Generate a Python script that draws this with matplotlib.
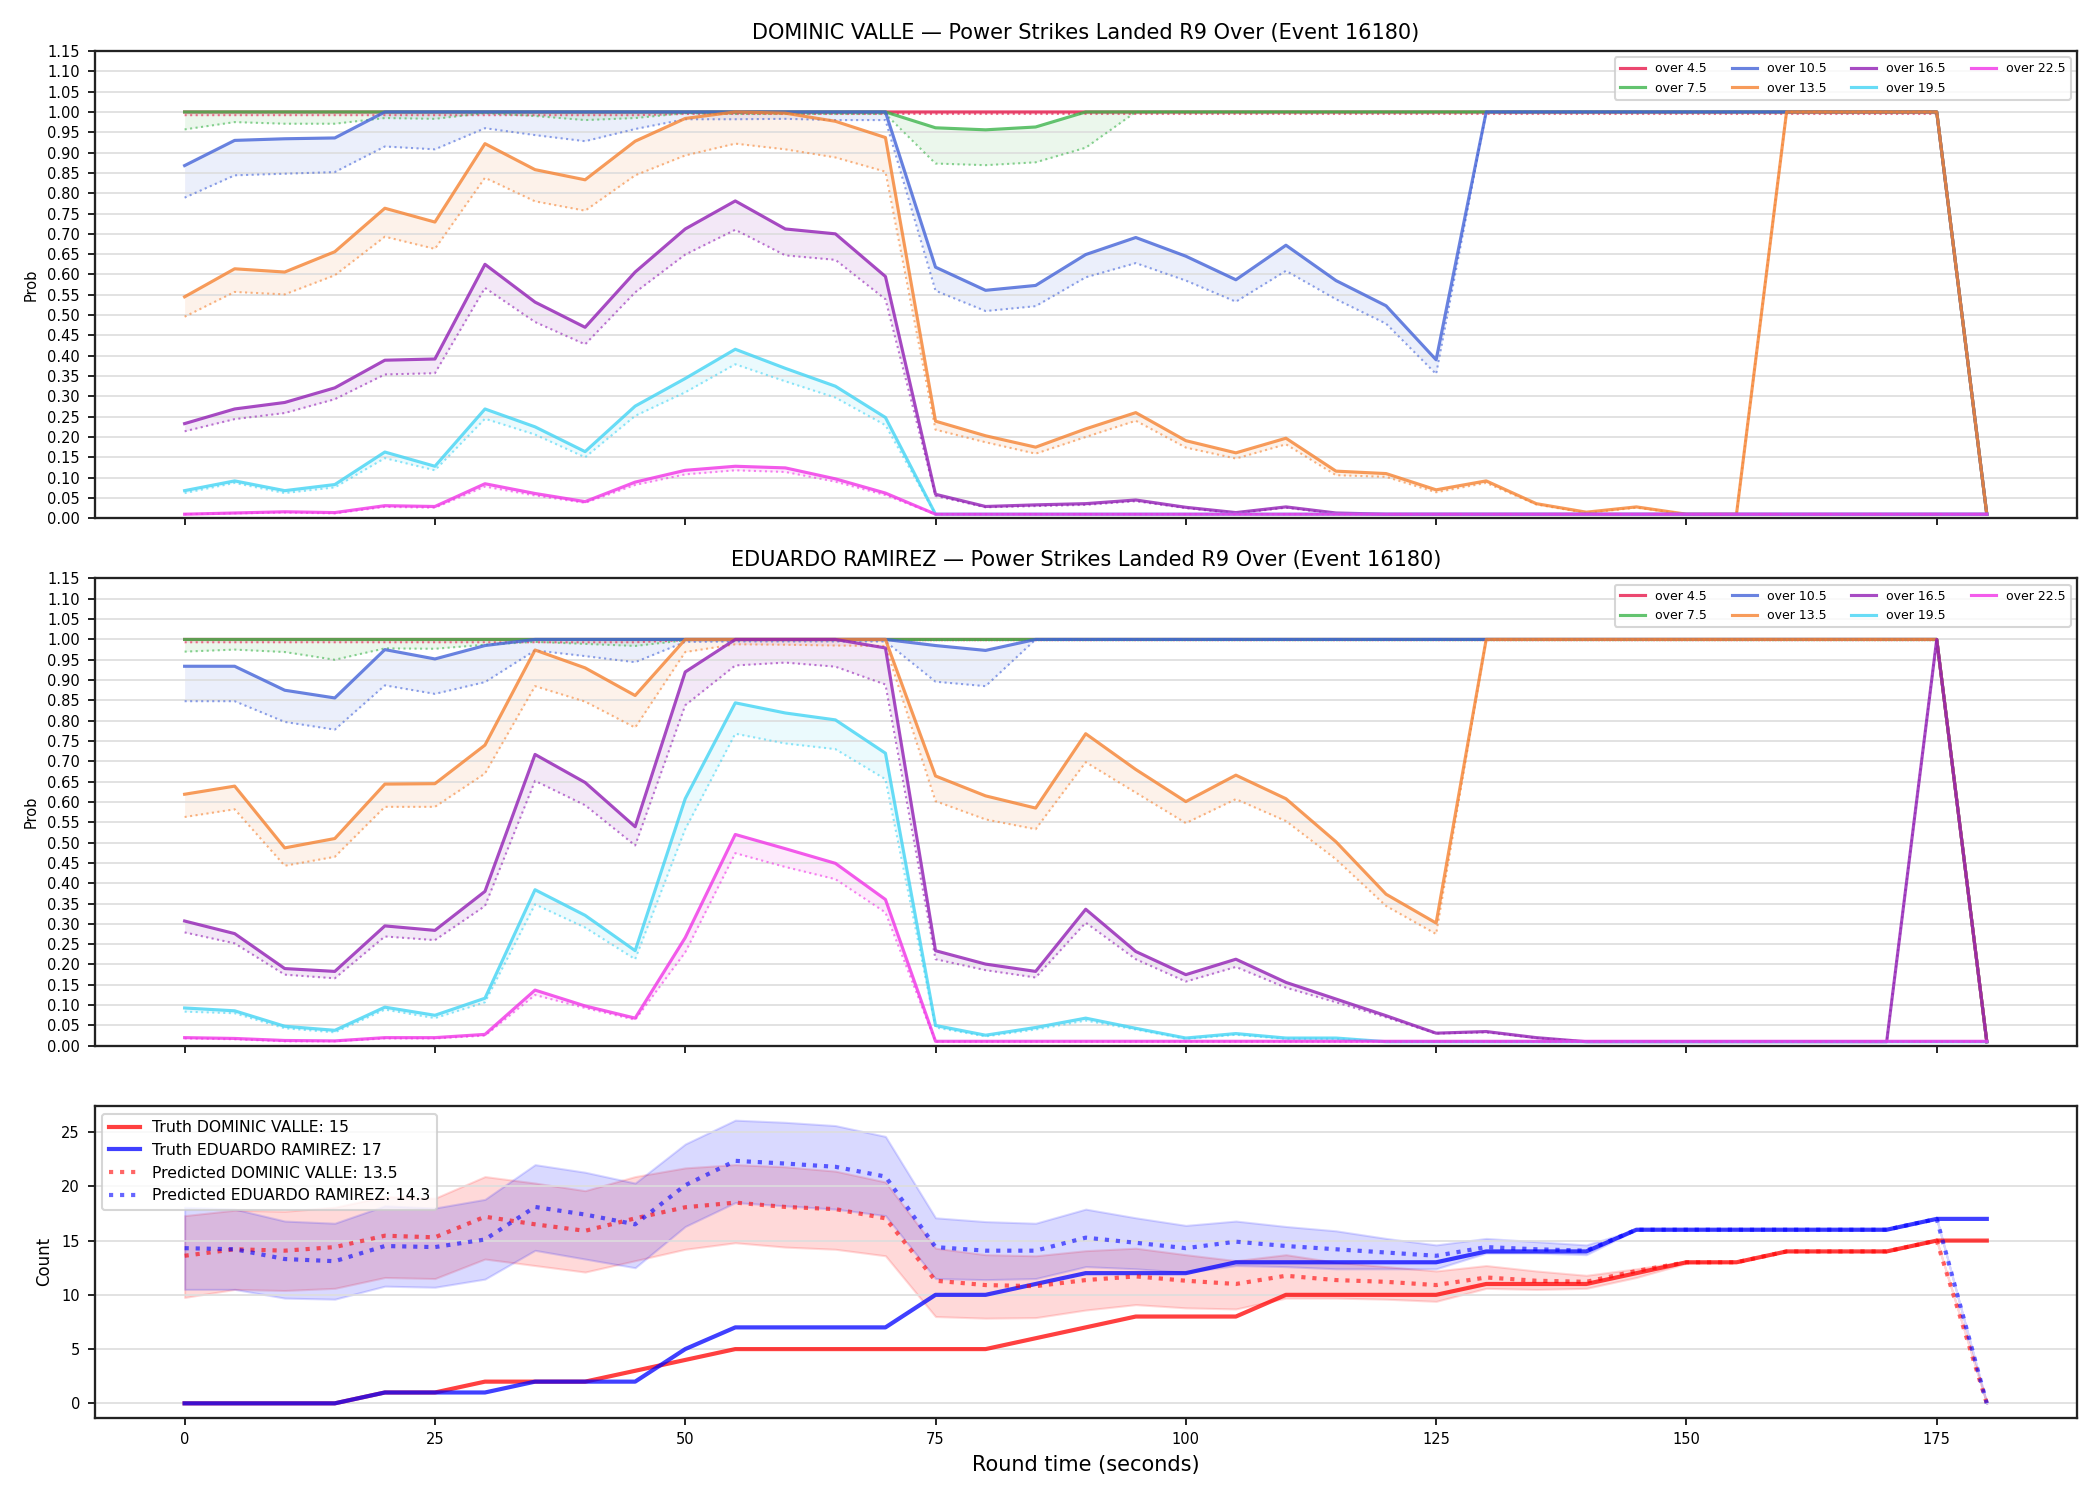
import matplotlib
matplotlib.use('Agg')
import matplotlib.pyplot as plt

# round time (seconds)
t = [0, 5, 10, 15, 20, 25, 30, 35, 40, 45, 50, 55, 60, 65, 70, 75, 80, 85, 90,
     95, 100, 105, 110, 115, 120, 125, 130, 135, 140, 145, 150, 155, 160, 165,
     170, 175, 180]

lines = ['over 4.5', 'over 7.5', 'over 10.5', 'over 13.5', 'over 16.5', 'over 19.5', 'over 22.5']
line_colors = ['#e6194b', '#3cb44b', '#4363d8', '#f58231', '#911eb4', '#42d4f4', '#f032e6']

# ---- DOMINIC VALLE: solid = prob, dotted = lower prob
dv_45 = [1.0, 1.0, 1.0, 1.0, 1.0, 1.0, 1.0, 1.0, 1.0, 1.0, 1.0, 1.0, 1.0, 1.0, 1.0, 1.0, 1.0, 1.0, 1.0,
         1.0, 1.0, 1.0, 1.0, 1.0, 1.0, 1.0, 1.0, 1.0, 1.0, 1.0, 1.0, 1.0, 1.0, 1.0, 1.0, 1.0, 0.01]
dv_45_lo = [0.992, 0.992, 0.992, 0.992, 0.992, 0.992, 0.992, 0.992, 0.992, 0.992, 0.995, 0.995, 0.995,
            0.995, 0.995, 0.995, 0.995, 0.995, 0.995, 0.995, 0.995, 0.995, 0.995, 0.995, 0.995, 0.995,
            0.995, 0.995, 0.995, 0.995, 0.995, 0.995, 0.995, 0.995, 0.995, 0.995, 0.01]
dv_75 = [1.0, 1.0, 1.0, 1.0, 1.0, 1.0, 1.0, 1.0, 1.0, 1.0, 1.0, 1.0, 1.0, 1.0, 1.0, 0.961, 0.956, 0.963, 1.0,
         1.0, 1.0, 1.0, 1.0, 1.0, 1.0, 1.0, 1.0, 1.0, 1.0, 1.0, 1.0, 1.0, 1.0, 1.0, 1.0, 1.0, 0.01]
dv_75_lo = [0.957, 0.975, 0.971, 0.971, 0.985, 0.983, 0.997, 0.99, 0.98, 0.985, 0.997, 0.995, 0.995,
            0.995, 0.995, 0.873, 0.869, 0.876, 0.912, 1.0, 1.0, 1.0, 1.0, 1.0, 1.0, 1.0, 1.0, 1.0,
            1.0, 1.0, 1.0, 1.0, 1.0, 1.0, 1.0, 1.0, 0.01]
dv_105 = [0.868, 0.93, 0.934, 0.936, 1.0, 1.0, 1.0, 1.0, 1.0, 1.0, 1.0, 1.0, 1.0, 1.0, 1.0, 0.618, 0.561,
          0.573, 0.649, 0.691, 0.645, 0.587, 0.672, 0.585, 0.523, 0.39, 1.0, 1.0, 1.0, 1.0, 1.0, 1.0,
          1.0, 1.0, 1.0, 1.0, 0.01]
dv_105_lo = [0.789, 0.844, 0.848, 0.852, 0.915, 0.908, 0.96, 0.943, 0.928, 0.958, 0.982, 0.982, 0.983,
             0.98, 0.98, 0.56, 0.51, 0.522, 0.593, 0.628, 0.585, 0.533, 0.609, 0.539, 0.479, 0.355,
             1.0, 1.0, 1.0, 1.0, 1.0, 1.0, 1.0, 1.0, 1.0, 1.0, 0.01]
dv_135 = [0.545, 0.614, 0.606, 0.656, 0.763, 0.729, 0.922, 0.858, 0.833, 0.928, 0.984, 1.0, 0.997, 0.977,
          0.937, 0.239, 0.203, 0.175, 0.22, 0.26, 0.191, 0.161, 0.197, 0.116, 0.11, 0.07, 0.092,
          0.036, 0.015, 0.028, 0.01, 0.01, 1.0, 1.0, 1.0, 1.0, 0.01]
dv_135_lo = [0.496, 0.557, 0.551, 0.598, 0.693, 0.663, 0.838, 0.78, 0.757, 0.844, 0.893, 0.922, 0.908,
             0.888, 0.853, 0.218, 0.187, 0.159, 0.2, 0.24, 0.174, 0.147, 0.182, 0.106, 0.102, 0.064,
             0.087, 0.034, 0.013, 0.026, 0.01, 0.01, 1.0, 1.0, 1.0, 1.0, 0.01]
dv_165 = [0.233, 0.269, 0.285, 0.321, 0.389, 0.392, 0.625, 0.532, 0.47, 0.606, 0.712, 0.781, 0.712, 0.7,
          0.595, 0.059, 0.029, 0.033, 0.036, 0.045, 0.027, 0.014, 0.028, 0.013, 0.01, 0.01, 0.01,
          0.01, 0.01, 0.01, 0.01, 0.01, 0.01, 0.01, 0.01, 0.01, 0.01]
dv_165_lo = [0.214, 0.244, 0.259, 0.293, 0.354, 0.357, 0.567, 0.483, 0.428, 0.556, 0.649, 0.71, 0.647,
             0.636, 0.539, 0.055, 0.027, 0.03, 0.033, 0.042, 0.025, 0.012, 0.026, 0.011, 0.01, 0.01,
             0.01, 0.01, 0.01, 0.01, 0.01, 0.01, 0.01, 0.01, 0.01, 0.01, 0.01]
dv_195 = [0.068, 0.092, 0.068, 0.083, 0.163, 0.128, 0.269, 0.225, 0.164, 0.276, 0.344, 0.416, 0.369,
          0.325, 0.248, 0.01, 0.01, 0.01, 0.01, 0.01, 0.01, 0.01, 0.01, 0.01, 0.01, 0.01, 0.01, 0.01,
          0.01, 0.01, 0.01, 0.01, 0.01, 0.01, 0.01, 0.01, 0.01]
dv_195_lo = [0.062, 0.087, 0.062, 0.076, 0.148, 0.118, 0.245, 0.206, 0.15, 0.252, 0.31, 0.379, 0.337,
             0.297, 0.229, 0.01, 0.01, 0.01, 0.01, 0.01, 0.01, 0.01, 0.01, 0.01, 0.01, 0.01, 0.01,
             0.01, 0.01, 0.01, 0.01, 0.01, 0.01, 0.01, 0.01, 0.01, 0.01]
dv_225 = [0.01, 0.013, 0.016, 0.014, 0.031, 0.029, 0.085, 0.061, 0.041, 0.089, 0.118, 0.128, 0.124,
          0.097, 0.062, 0.01, 0.01, 0.01, 0.01, 0.01, 0.01, 0.01, 0.01, 0.01, 0.01, 0.01, 0.01, 0.01,
          0.01, 0.01, 0.01, 0.01, 0.01, 0.01, 0.01, 0.01, 0.01]
dv_225_lo = [0.01, 0.012, 0.014, 0.012, 0.028, 0.026, 0.078, 0.056, 0.038, 0.082, 0.108, 0.118, 0.114,
             0.09, 0.057, 0.01, 0.01, 0.01, 0.01, 0.01, 0.01, 0.01, 0.01, 0.01, 0.01, 0.01, 0.01,
             0.01, 0.01, 0.01, 0.01, 0.01, 0.01, 0.01, 0.01, 0.01, 0.01]

# ---- EDUARDO RAMIREZ
er_45 = [1.0, 1.0, 1.0, 1.0, 1.0, 1.0, 1.0, 1.0, 1.0, 1.0, 1.0, 1.0, 1.0, 1.0, 1.0, 1.0, 1.0, 1.0, 1.0,
         1.0, 1.0, 1.0, 1.0, 1.0, 1.0, 1.0, 1.0, 1.0, 1.0, 1.0, 1.0, 1.0, 1.0, 1.0, 1.0, 1.0, 0.01]
er_45_lo = [0.993, 0.993, 0.993, 0.993, 0.993, 0.993, 0.993, 0.993, 0.993, 0.993, 0.998, 0.998, 0.998,
            0.998, 0.998, 0.998, 0.998, 0.998, 0.998, 0.998, 0.998, 0.998, 0.998, 0.998, 0.998, 0.998,
            0.998, 0.998, 0.998, 0.998, 0.998, 0.998, 0.998, 0.998, 0.998, 0.998, 0.01]
er_75 = [1.0, 1.0, 1.0, 1.0, 1.0, 1.0, 1.0, 1.0, 1.0, 1.0, 1.0, 1.0, 1.0, 1.0, 1.0, 1.0, 1.0, 1.0, 1.0,
         1.0, 1.0, 1.0, 1.0, 1.0, 1.0, 1.0, 1.0, 1.0, 1.0, 1.0, 1.0, 1.0, 1.0, 1.0, 1.0, 1.0, 0.01]
er_75_lo = [0.97, 0.975, 0.969, 0.95, 0.978, 0.977, 0.987, 0.994, 0.989, 0.984, 0.998, 0.998, 0.998,
            0.998, 0.998, 0.998, 0.998, 0.998, 0.998, 0.998, 0.998, 0.998, 0.998, 0.998, 0.998, 0.998,
            0.998, 0.998, 0.998, 0.998, 0.998, 0.998, 0.998, 0.998, 0.998, 0.998, 0.01]
er_105 = [0.934, 0.934, 0.875, 0.856, 0.975, 0.952, 0.985, 1.0, 1.0, 1.0, 1.0, 1.0, 1.0, 1.0, 1.0, 0.985,
          0.973, 1.0, 1.0, 1.0, 1.0, 1.0, 1.0, 1.0, 1.0, 1.0, 1.0, 1.0, 1.0, 1.0, 1.0, 1.0, 1.0, 1.0,
          1.0, 1.0, 0.01]
er_105_lo = [0.848, 0.848, 0.797, 0.778, 0.887, 0.866, 0.895, 0.973, 0.959, 0.944, 0.994, 0.995, 0.995,
             0.995, 0.995, 0.896, 0.885, 1.0, 1.0, 1.0, 1.0, 1.0, 1.0, 1.0, 1.0, 1.0, 1.0, 1.0, 1.0,
             1.0, 1.0, 1.0, 1.0, 1.0, 1.0, 1.0, 0.01]
er_135 = [0.619, 0.639, 0.487, 0.51, 0.644, 0.645, 0.74, 0.974, 0.93, 0.862, 1.0, 1.0, 1.0, 1.0, 1.0,
          0.664, 0.615, 0.585, 0.768, 0.68, 0.601, 0.666, 0.608, 0.502, 0.373, 0.302, 1.0, 1.0, 1.0,
          1.0, 1.0, 1.0, 1.0, 1.0, 1.0, 1.0, 0.01]
er_135_lo = [0.563, 0.582, 0.443, 0.465, 0.588, 0.588, 0.67, 0.885, 0.847, 0.783, 0.969, 0.988, 0.987,
             0.985, 0.984, 0.602, 0.557, 0.533, 0.698, 0.623, 0.548, 0.607, 0.553, 0.459, 0.344,
             0.275, 1.0, 1.0, 1.0, 1.0, 1.0, 1.0, 1.0, 1.0, 1.0, 1.0, 0.01]
er_165 = [0.307, 0.276, 0.19, 0.183, 0.295, 0.284, 0.38, 0.717, 0.648, 0.539, 0.92, 1.0, 1.0, 1.0, 0.979,
          0.234, 0.201, 0.183, 0.336, 0.232, 0.175, 0.213, 0.156, 0.115, 0.074, 0.031, 0.035, 0.02,
          0.01, 0.01, 0.01, 0.01, 0.01, 0.01, 0.01, 1.0, 0.01]
er_165_lo = [0.279, 0.252, 0.175, 0.166, 0.269, 0.26, 0.344, 0.652, 0.592, 0.493, 0.838, 0.936, 0.943,
             0.933, 0.889, 0.213, 0.186, 0.168, 0.303, 0.213, 0.158, 0.194, 0.143, 0.107, 0.07, 0.03,
             0.033, 0.019, 0.01, 0.01, 0.01, 0.01, 0.01, 0.01, 0.01, 1.0, 0.01]
er_195 = [0.093, 0.086, 0.048, 0.038, 0.095, 0.075, 0.117, 0.384, 0.321, 0.234, 0.608, 0.844, 0.819,
          0.802, 0.72, 0.05, 0.026, 0.045, 0.068, 0.043, 0.019, 0.03, 0.019, 0.019, 0.01, 0.01, 0.01,
          0.01, 0.01, 0.01, 0.01, 0.01, 0.01, 0.01, 0.01, 0.01, 0.01]
er_195_lo = [0.084, 0.08, 0.043, 0.033, 0.089, 0.068, 0.107, 0.348, 0.291, 0.213, 0.533, 0.768, 0.744,
             0.73, 0.656, 0.045, 0.023, 0.04, 0.062, 0.04, 0.017, 0.027, 0.017, 0.017, 0.01, 0.01,
             0.01, 0.01, 0.01, 0.01, 0.01, 0.01, 0.01, 0.01, 0.01, 0.01, 0.01]
er_225 = [0.02, 0.018, 0.013, 0.012, 0.02, 0.02, 0.028, 0.137, 0.098, 0.068, 0.266, 0.52, 0.485, 0.449,
          0.36, 0.011, 0.011, 0.011, 0.011, 0.011, 0.011, 0.011, 0.011, 0.011, 0.011, 0.011, 0.011,
          0.011, 0.011, 0.011, 0.011, 0.011, 0.011, 0.011, 0.011, 0.011, 0.011]
er_225_lo = [0.018, 0.016, 0.011, 0.011, 0.018, 0.018, 0.025, 0.125, 0.093, 0.064, 0.23, 0.474, 0.44,
             0.41, 0.328, 0.01, 0.01, 0.01, 0.01, 0.01, 0.01, 0.01, 0.01, 0.01, 0.01, 0.01, 0.01,
             0.01, 0.01, 0.01, 0.01, 0.01, 0.01, 0.01, 0.01, 0.01, 0.01]

# ---- counts panel
truth_dv = [0, 0, 0, 0, 1, 1, 2, 2, 2, 3, 4, 5, 5, 5, 5, 5, 5, 6, 7, 8, 8, 8, 10, 10, 10, 10, 11, 11,
            11, 12, 13, 13, 14, 14, 14, 15, 15]
truth_er = [0, 0, 0, 0, 1, 1, 1, 2, 2, 2, 5, 7, 7, 7, 7, 10, 10, 11, 12, 12, 12, 13, 13, 13, 13, 13,
            14, 14, 14, 16, 16, 16, 16, 16, 16, 17, 17]
pred_dv = [13.6, 14.2, 14.07, 14.4, 15.45, 15.3, 17.2, 16.5, 15.9, 17.05, 18.07, 18.5, 18.1, 17.9,
           17.05, 11.3, 10.9, 10.8, 11.36, 11.7, 11.3, 11.0, 11.76, 11.36, 11.2, 10.9, 11.6, 11.3,
           11.2, 12.2, 13, 13, 14, 14, 14, 15, 0]
pred_er = [14.3, 14.2, 13.3, 13.1, 14.5, 14.4, 15.1, 18.1, 17.4, 16.5, 20.1, 22.35, 22.1, 21.8, 20.9,
           14.4, 14.07, 14.07, 15.27, 14.8, 14.3, 14.9, 14.5, 14.2, 13.9, 13.6, 14.4, 14.2, 14.07,
           16, 16, 16, 16, 16, 16, 17, 0]
dv_low = [9.76, 10.5, 10.4, 10.6, 11.6, 11.5, 13.3, 12.7, 12.1, 13.15, 14.2, 14.8, 14.4, 14.2, 13.6,
          8.0, 7.85, 7.9, 8.6, 9.1, 8.8, 8.7, 9.7, 9.7, 9.6, 9.4, 10.6, 10.5, 10.6, 11.6, 12.9, 13,
          14, 14, 14, 15, 0]
dv_high = [17.3, 17.8, 17.7, 18.07, 19.06, 18.9, 20.9, 20.3, 19.6, 20.9, 21.7, 22.0, 21.8, 21.4, 20.4,
           14.3, 13.7, 13.6, 14.07, 14.3, 13.7, 13.15, 13.7, 13.0, 12.6, 12.2, 12.7, 12.2, 11.8,
           12.4, 13.1, 13, 14, 14, 14, 15, 0]
er_low = [10.5, 10.5, 9.7, 9.6, 10.8, 10.7, 11.45, 14.1, 13.3, 12.5, 16.3, 18.5, 18.2, 17.9, 17.3,
          11.5, 11.4, 11.5, 12.6, 12.4, 12.07, 12.7, 12.6, 12.4, 12.4, 12.4, 13.85, 13.85, 13.7,
          16, 16, 16, 16, 16, 16, 17, 0]
er_high = [18.07, 17.9, 16.8, 16.6, 18.2, 18.0, 18.8, 22.0, 21.3, 20.3, 23.9, 26.1, 25.9, 25.6, 24.6,
           17.1, 16.75, 16.6, 17.9, 17.1, 16.4, 16.8, 16.3, 15.9, 15.2, 14.6, 15.2, 14.9, 14.6,
           16, 16, 16, 16, 16, 16, 17, 0]

dv_probs = [(dv_45, dv_45_lo), (dv_75, dv_75_lo), (dv_105, dv_105_lo), (dv_135, dv_135_lo),
            (dv_165, dv_165_lo), (dv_195, dv_195_lo), (dv_225, dv_225_lo)]
er_probs = [(er_45, er_45_lo), (er_75, er_75_lo), (er_105, er_105_lo), (er_135, er_135_lo),
            (er_165, er_165_lo), (er_195, er_195_lo), (er_225, er_225_lo)]

fig, axes = plt.subplots(3, 1, figsize=(14, 10), dpi=150, sharex=True,
                         gridspec_kw={'height_ratios': [1.5, 1.5, 1]})
fig.subplots_adjust(left=0.045, right=0.989, top=0.966, bottom=0.055, hspace=0.145)


def prob_panel(ax, probs, name):
    for lab, col, (hi, lo) in zip(lines, line_colors, probs):
        ax.fill_between(t, lo, hi, color=col, alpha=0.1, lw=0)
        ax.plot(t, lo, color=col, ls=':', lw=1.0, alpha=0.6)
        ax.plot(t, hi, color=col, lw=1.5, alpha=0.8, label=lab)
    ax.set_ylim(0, 1.15)
    ax.set_yticks([i * 0.05 for i in range(24)])
    ax.set_ylabel('Prob', fontsize=7)
    ax.set_title(f'{name} — Power Strikes Landed R9 Over (Event 16180)', fontsize=10)
    ax.grid(axis='y', color='#dddddd', lw=0.8)
    ax.legend(loc='upper right', ncol=4, fontsize=6)


prob_panel(axes[0], dv_probs, 'DOMINIC VALLE')
prob_panel(axes[1], er_probs, 'EDUARDO RAMIREZ')

ax = axes[2]
ax.fill_between(t, dv_low, dv_high, color='red', alpha=0.15)
ax.fill_between(t, er_low, er_high, color='blue', alpha=0.15)
ax.plot(t, truth_dv, color='red', lw=2, alpha=0.75, label='Truth DOMINIC VALLE: 15')
ax.plot(t, truth_er, color='blue', lw=2, alpha=0.75, label='Truth EDUARDO RAMIREZ: 17')
ax.plot(t, pred_dv, color='red', ls=':', lw=2, alpha=0.6, label='Predicted DOMINIC VALLE: 13.5')
ax.plot(t, pred_er, color='blue', ls=':', lw=2, alpha=0.6, label='Predicted EDUARDO RAMIREZ: 14.3')
ax.set_ylabel('Count', fontsize=8)
ax.set_xlabel('Round time (seconds)', fontsize=10)
ax.grid(axis='y', color='#dddddd', lw=0.8)
ax.legend(loc='upper left', fontsize=7.5)

for a in axes:
    a.tick_params(labelsize=7)
    for s in a.spines.values():
        s.set_linewidth(1.1)
        s.set_color('#222222')

plt.savefig('out.png', dpi=150)
